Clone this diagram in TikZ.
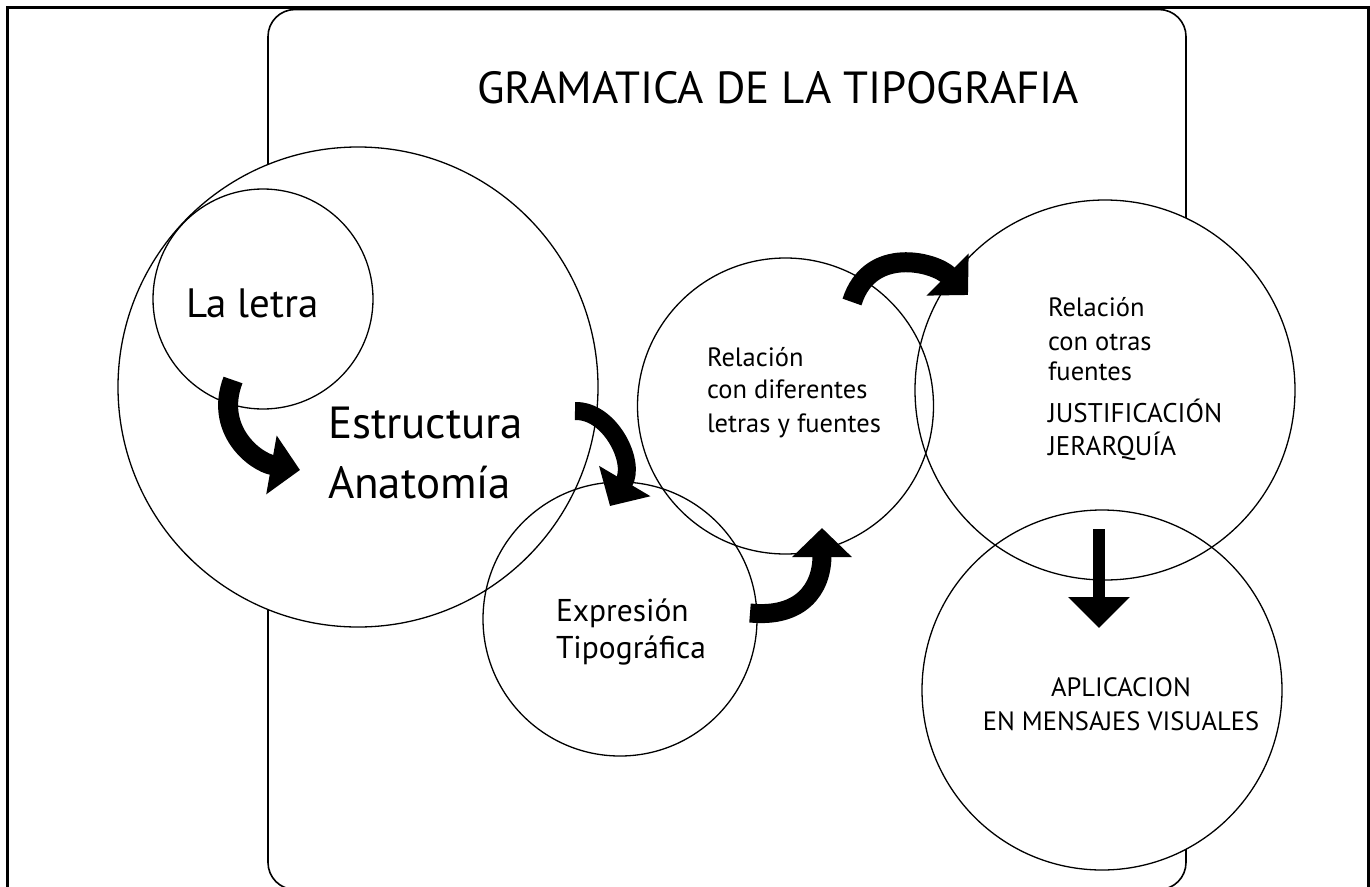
\documentclass[tikz,border=0pt]{standalone}
\usepackage{fontspec}
\setmainfont{PT Sans}
\usetikzlibrary{arrows.meta}
\newcommand\setfs[1]{\fontsize{#1}{#1}\selectfont}
\begin{document}
\begin{tikzpicture}[x=1pt,y=-1pt,
  outerframe/.style={line width=2.6pt},
  panel/.style={draw, line width=1.6pt, rounded corners=27pt, rectangle, inner sep=0pt, minimum width=918pt, minimum height=880pt},
  disc/.style={circle, fill=white, inner sep=0pt, minimum size=#1},
  ring/.style={line width=1.3pt},
  lbl/.style={inner sep=0pt, outer sep=0pt, anchor=base west},
  clbl/.style={inner sep=0pt, outer sep=0pt, anchor=base},
  flow/.style={line width=#1, -{Triangle[length=29pt,width=58pt]}},
]
\useasboundingbox (0,0) rectangle (1370,886);
% panel and outer frame
\node[panel] (box) at (727,449.5) {};
\draw[outerframe] (7.3,890) -- (7.3,7.3) -- (1368.6,7.3) -- (1368.6,890);
% circle fills
\node[disc=480pt] (big) at (358,387) {};
\node[disc=220pt] (letra) at (263,299) {};
\node[disc=296pt] (reldif) at (785.5,406) {};
\node[disc=274pt] (expr) at (620,619) {};
\node[disc=380pt] (relotr) at (1105,390) {};
\node[disc=360pt] (aplic) at (1102,690) {};
% circle outlines
\draw[ring] (big.center) circle[radius=240pt];
\draw[ring] (letra.center) circle[radius=110pt];
\draw[ring] (reldif.center) circle[radius=148pt];
\draw[ring] (expr.center) circle[radius=137pt];
\draw[ring] (relotr.center) circle[radius=190pt];
\draw[ring] (aplic.center) circle[radius=180pt];
% texts
\node[lbl, font=\setfs{45}] (title) at (477,103) {GRAMATICA DE LA TIPOGRAFIA};
\node[lbl, font=\setfs{41}] (tletra) at (186,317) {La letra};
\node[lbl, font=\setfs{45}] (testr) at (328,438) {Estructura};
\node[lbl, font=\setfs{45}] (tanat) at (328,498) {Anatomía};
\node[lbl, font=\setfs{26.5}] (td1) at (707,366) {Relación};
\node[lbl, font=\setfs{26.5}] (td2) at (707,398) {con diferentes};
\node[lbl, font=\setfs{26.5}] (td3) at (707,432) {letras y fuentes};
\node[lbl, font=\setfs{31.5}] (te1) at (556,621) {Expresión};
\node[lbl, font=\setfs{31.5}] (te2) at (556,658) {Tipográfica};
\node[lbl, font=\setfs{26.5}] (to1) at (1048,316) {Relación};
\node[lbl, font=\setfs{26.5}] (to2) at (1048,350) {con otras};
\node[lbl, font=\setfs{26.5}] (to3) at (1048,380) {fuentes};
\node[lbl, font=\setfs{27}] (to4) at (1048,422) {JUSTIFICACIÓN};
\node[lbl, font=\setfs{27}] (to5) at (1048,455) {JERARQUÍA};
\node[clbl, font=\setfs{26.5}] (ta1) at (1121,696) {APLICACION};
\node[clbl, font=\setfs{26.5}] (ta2) at (1121,730) {EN MENSAJES VISUALES};
% arrows
\coordinate (a1s) at (233,380); \coordinate (a1e) at (300,470);
\coordinate (a2s) at (575,411); \coordinate (a2e) at (610,506);
\coordinate (a3s) at (750,613); \coordinate (a3e) at (822,528);
\coordinate (a4s) at (852,302); \coordinate (a4e) at (968,295);
\coordinate (a5s) at (1099,529); \coordinate (a5e) at (1099,628);
\draw[flow=20pt] (a1s) .. controls (214,430) and (255,462) .. (a1e);
\draw[flow=18pt] (a2s) .. controls (610,410) and (636,462) .. (a2e);
\draw[flow=19pt] (a3s) .. controls (800,618) and (822,590) .. (a3e);
\draw[flow=20pt] (a4s) .. controls (870,245) and (935,262) .. (a4e);
\draw[line width=12pt, -{Triangle[length=31pt,width=60pt]}] (a5s) -- (a5e);
\end{tikzpicture}
\end{document}
